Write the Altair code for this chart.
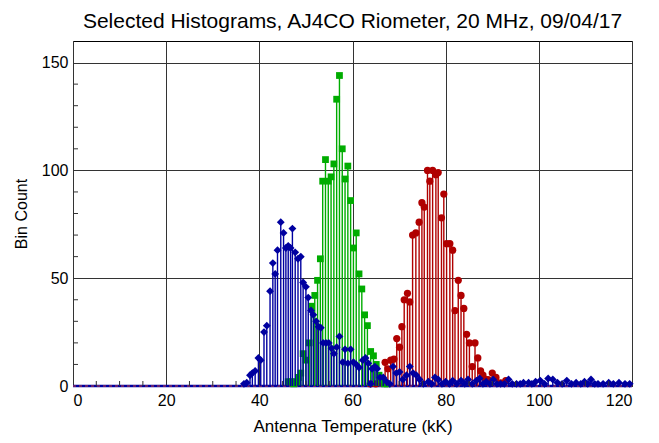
import altair as alt
import pandas as pd

TITLE = "Selected Histograms, AJ4CO Riometer, 20 MHz, 09/04/17"
X_TITLE = "Antenna Temperature (kK)"
Y_TITLE = "Bin Count"

x_ticks = [0, 20, 40, 60, 80, 100, 120]
y_ticks = [0, 50, 100, 150]
x_minor = [5, 10, 15, 25, 30, 35, 45, 50, 55, 65, 70, 75, 85, 90, 95, 105, 110, 115]
y_minor = [10, 20, 30, 40, 60, 70, 80, 90, 110, 120, 130, 140]

# red series (circles)
red_x = [63.8, 65.0, 66.0, 67.0, 67.6, 68.2, 68.9, 69.5, 70.1, 70.6, 71.1, 71.8, 72.3, 72.9,
         73.6, 74.3, 74.9, 75.4, 76.1, 76.6, 77.2, 77.9, 78.4, 79.1, 79.6, 80.2, 80.9, 81.5,
         82.0, 82.7, 83.3, 83.9, 84.5, 85.1, 85.7, 86.3, 86.9, 87.5, 88.0, 88.6, 89.1, 90.0,
         90.8, 91.8, 92.9]
red_y = [1, 1, 2, 11, 8, 12, 12.5, 22, 18, 27.5, 40, 43, 39, 70,
         71, 76, 85, 83, 100, 95, 100, 98, 99, 78, 89, 66, 66, 63,
         35, 49, 42, 36, 24, 20, 9, 20, 13, 7, 5, 3, 3, 6,
         4, 1.5, 2.5]

# green series (squares)
green_x = [46.2, 46.8, 47.4, 48.0, 48.4, 48.9, 49.4, 50.0, 50.7, 51.2, 51.9, 52.5, 53.1, 53.6,
           54.2, 54.8, 55.4, 56.0, 56.6, 57.2, 57.8, 58.4, 59.0, 59.6, 60.2, 60.8, 61.4, 62.0,
           62.6, 63.2, 63.9, 64.5, 65.1, 65.7, 66.3, 66.9, 67.5]
green_y = [2, 2, 1, 2, 4, 6, 15, 12, 20, 37, 42, 49, 59, 95,
           105, 95, 97, 103, 133, 144, 110, 96, 102, 86, 64, 71, 52, 45,
           33, 28, 16, 14, 10, 5, 3, 1, 1]

# blue series (diamonds)
blue_x = [36.7, 37.3, 38.0, 38.5, 39.1, 39.8, 40.3, 41.0, 41.6, 42.3, 42.9, 43.4, 43.9, 44.6,
          45.2, 45.7, 46.2, 46.7, 47.1, 47.7, 48.3, 48.9, 49.4, 50.0, 50.5, 51.1, 51.6, 52.2,
          52.7, 53.2, 53.7, 54.3, 54.9, 55.5, 56.0, 56.6, 57.2, 57.9, 58.4, 59.0, 59.6, 60.2,
          60.8, 61.4, 62.2, 62.8, 63.4, 63.9, 64.2, 64.8, 65.3, 65.9, 66.6, 67.3, 68.0, 68.7,
          69.4, 70.1, 70.8, 71.6, 72.3, 73.0, 73.7, 74.4, 75.2, 76.3, 77.0, 77.7, 78.4, 79.2,
          80.0, 80.8, 81.5, 82.4, 83.3, 84.1, 84.8, 85.7, 86.6, 87.3, 88.0, 88.7, 89.5, 90.2,
          91.0, 91.8, 92.6, 93.5, 94.3, 95.2, 96.0, 96.7, 97.8, 98.5, 99.3, 100.3, 101.2, 102.0,
          103.0, 104.0, 105.0, 106.0, 107.0, 108.0, 109.0, 109.8, 110.5, 111.2, 112.0, 112.7,
          113.8, 115.0, 116.0, 117.2, 118.5, 119.5]
blue_y = [1, 1.5, 5, 6, 7, 13, 12, 25, 28, 44, 57, 52, 63, 76,
          71, 64, 65, 64, 73, 62, 59, 60, 48, 46, 41, 35, 33, 30,
          27.5, 27, 20, 20, 20, 17.5, 15, 18, 23, 11, 17, 10.5, 17, 11,
          10, 8.6, 12, 13, 10.5, 1, 8, 9, 8, 4, 4, 2, 1, 9,
          6, 6.5, 3, 5, 9, 6, 5, 3, 1, 2, 1, 4, 3, 1,
          2, 1, 2.5, 1, 2.5, 1, 3, 1, 2.5, 3.5, 1, 2, 1, 3,
          1, 1, 1, 3, 1, 1, 1, 1.5, 1.5, 1, 2, 2.5, 1, 3.5,
          3, 1.5, 1, 2.5, 1, 1.5, 1, 2, 1, 3, 1, 1,
          1, 1.5, 1, 1.5, 1, 1]

series = [
    ("red", red_x, red_y, "#B00000", "circle", 52),
    ("green", green_x, green_y, "#00AC00", "square", 46),
    ("blue", blue_x, blue_y, "#0000A0", "diamond", 62),
]

FONT = "Liberation Sans"
W, H = 559, 345

xs = alt.Scale(domain=[0, 120], nice=False, zero=False)
ys = alt.Scale(domain=[0, 160], nice=False)

x_axis = alt.Axis(values=x_ticks, title=X_TITLE, grid=True, ticks=False, domain=False,
                  labelPadding=6, titlePadding=10, titleFontSize=17)
y_axis = alt.Axis(values=y_ticks, title=Y_TITLE, grid=True, ticks=False, domain=False,
                  labelPadding=5, titlePadding=12, titleFontSize=16)

layers = []

# baseline along zero
base_df = pd.DataFrame({"x0": [0], "x1": [120], "y0": [0]})
layers.append(alt.Chart(base_df).mark_rule(color="#0000A0", strokeWidth=2.5).encode(
    x=alt.X("x0:Q", scale=xs, axis=x_axis), x2="x1:Q",
    y=alt.Y("y0:Q", scale=ys, axis=y_axis)))
layers.append(alt.Chart(base_df).mark_rule(color="#D04040", strokeWidth=1, strokeDash=[3, 3]).encode(
    x=alt.X("x0:Q", scale=xs), x2="x1:Q", y=alt.Y("y0:Q", scale=ys)))

for name, sx, sy, col, shp, sz in series:
    d = pd.DataFrame({"x": sx, "y": sy, "z": [0] * len(sx)})
    c = alt.Chart(d)
    layers.append(c.mark_rule(color=col, strokeWidth=1.4).encode(
        x=alt.X("x:Q", scale=xs), y=alt.Y("y:Q", scale=ys), y2="z:Q"))
    layers.append(c.mark_point(filled=True, shape=shp, size=sz, color=col, opacity=1).encode(
        x=alt.X("x:Q", scale=xs), y=alt.Y("y:Q", scale=ys)))

# inward minor ticks
layers.append(alt.Chart(pd.DataFrame({"v": x_minor})).mark_rule(color="#333333").encode(
    x=alt.X("v:Q", scale=xs), y=alt.value(H), y2=alt.value(H - 5)))
layers.append(alt.Chart(pd.DataFrame({"v": y_minor})).mark_rule(color="#333333").encode(
    y=alt.Y("v:Q", scale=ys), x=alt.value(0), x2=alt.value(5)))

chart = alt.layer(*layers).properties(
    width=W, height=H,
    background="white",
    title=alt.TitleParams(TITLE, font=FONT, fontSize=21, fontWeight="normal", color="black",
                          anchor="middle", offset=9),
    autosize=alt.AutoSizeParams(type="none"),
    padding={"left": 65, "top": 33, "right": 19, "bottom": 49},
).configure_view(stroke="black", strokeWidth=1).configure_axis(
    gridColor="#333333", gridWidth=1, gridOpacity=1,
    labelFont=FONT, labelFontSize=16, labelColor="black",
    titleFont=FONT, titleFontWeight="normal", titleColor="black",
)

chart.save("out.html", embed_options={"renderer": "svg", "actions": False})
